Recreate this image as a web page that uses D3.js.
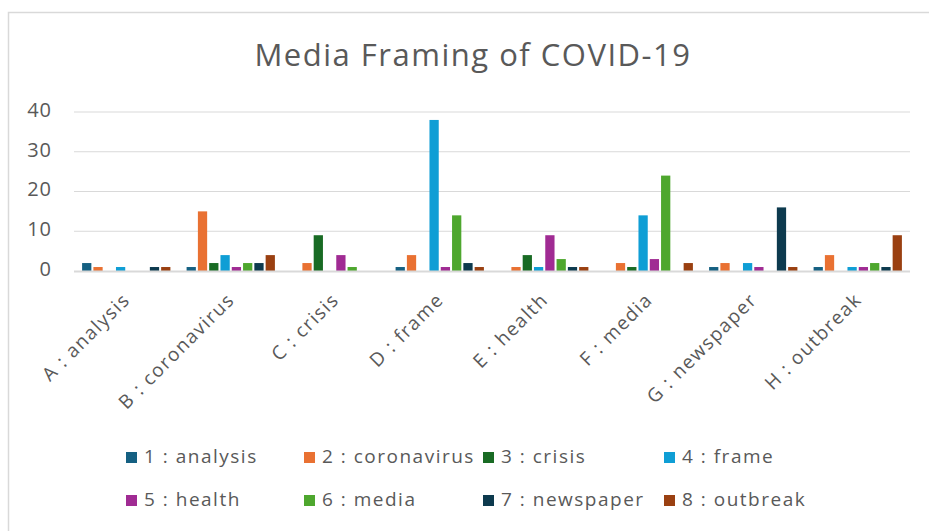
<!DOCTYPE html>
<html>
<head>
<meta charset="utf-8">
<script src="https://cdn.jsdelivr.net/npm/d3@7/dist/d3.min.js"></script>
<style>
  html, body { margin: 0; padding: 0; background: #ffffff; }
  svg { display: block; }
  text { font-family: "Open Sans", "Noto Sans", sans-serif; fill: #595959; }
</style>
</head>
<body>
<svg id="chart" width="929" height="531"></svg>
<script>
// ---- data ----
const categories = ["A : analysis", "B : coronavirus", "C : crisis", "D : frame", "E : health", "F : media", "G : newspaper", "H : outbreak"];
const seriesNames = ["1 : analysis", "2 : coronavirus", "3 : crisis", "4 : frame", "5 : health", "6 : media", "7 : newspaper", "8 : outbreak"];
const s1 = [2, 1, 0, 1, 0, 0, 1, 1];
const s2 = [1, 15, 2, 4, 1, 2, 2, 4];
const s3 = [0, 2, 9, 0, 4, 1, 0, 0];
const s4 = [1, 4, 0, 38, 1, 14, 2, 1];
const s5 = [0, 1, 4, 1, 9, 3, 1, 1];
const s6 = [0, 2, 1, 14, 3, 24, 0, 2];
const s7 = [1, 2, 0, 2, 1, 0, 16, 1];
const s8 = [1, 4, 0, 1, 1, 2, 1, 9];
const yTicks = [0, 10, 20, 30, 40];
const colors = ["#156082", "#E97132", "#196B24", "#0F9ED5", "#A02B93", "#4EA72E", "#0D3A4E", "#9A4011"];
const title = "Media Framing of COVID-19";

const seriesValues = [s1, s2, s3, s4, s5, s6, s7, s8];
const FONT = "'Open Sans', 'Noto Sans', sans-serif";

const svg = d3.select("#chart");

// outer border (only top/left visible in reference)
svg.append("rect")
  .attr("x", 8.5).attr("y", 12.5)
  .attr("width", 1200).attr("height", 1200)
  .attr("fill", "none").attr("stroke", "#d9d9d9").attr("stroke-width", 1.5);

// title
svg.append("text")
  .attr("x", 473).attr("y", 66)
  .attr("text-anchor", "middle")
  .style("font-size", "31px")
  .style("letter-spacing", "1.5px")
  .text(title);

// scales
const x0 = d3.scaleBand().domain(categories).range([74, 910])
  .paddingInner(0.155).paddingOuter(0.0775);
const x1 = d3.scaleBand().domain(seriesNames).range([0, x0.bandwidth()])
  .paddingInner(0.18).paddingOuter(0);
const y = d3.scaleLinear().domain([0, 40]).range([271, 112]);

// gridlines
svg.append("g").selectAll("line").data(yTicks.filter(d => d > 0)).join("line")
  .attr("x1", 74).attr("x2", 910)
  .attr("y1", d => y(d)).attr("y2", d => y(d))
  .attr("stroke", "#d9d9d9").attr("stroke-width", 1.2);

// y-axis labels
const yAxis = d3.axisLeft(y).tickValues(yTicks).tickSize(0).tickPadding(0);
const gy = svg.append("g").attr("transform", "translate(52,-2)").call(yAxis);
gy.select(".domain").remove();
gy.selectAll("text")
  .style("font-size", "20px")
  .style("letter-spacing", "1px")
  .style("font-family", FONT)
  .attr("fill", "#595959");

// bars
const data = categories.map((c, i) => ({ cat: c, vals: seriesNames.map((s, j) => ({ s, j, v: seriesValues[j][i] })) }));
svg.append("g").selectAll("g").data(data).join("g")
  .attr("transform", d => `translate(${x0(d.cat)},0)`)
  .selectAll("rect").data(d => d.vals).join("rect")
  .attr("x", d => x1(d.s))
  .attr("width", x1.bandwidth())
  .attr("y", d => y(d.v))
  .attr("height", d => y(0) - y(d.v))
  .attr("fill", d => colors[d.j]);

// x axis baseline
svg.append("line")
  .attr("x1", 74).attr("x2", 910)
  .attr("y1", y(0) + 0.5).attr("y2", y(0) + 0.5)
  .attr("stroke", "#d9d9d9").attr("stroke-width", 1.8);

// x axis labels (rotated -45)
const xAxis = d3.axisBottom(x0).tickSize(0).tickPadding(0);
const gx = svg.append("g").attr("transform", `translate(0,${y(0)})`).call(xAxis);
gx.select(".domain").remove();
gx.selectAll(".tick text")
  .style("font-size", "19px")
  .style("font-family", FONT)
  .style("letter-spacing", "1.5px")
  .attr("fill", "#595959")
  .attr("text-anchor", "end")
  .attr("dy", "0")
  .attr("y", 0)
  .attr("transform", "translate(5,30) rotate(-45)");

// legend
const legendCols = [126, 304, 483, 664];
const legendRows = [463, 506];
const lg = svg.append("g").selectAll("g").data(seriesNames).join("g")
  .attr("transform", (d, i) => `translate(${legendCols[i % 4]},${legendRows[Math.floor(i / 4)]})`);
lg.append("rect")
  .attr("x", 0).attr("y", -11).attr("width", 11).attr("height", 11)
  .attr("fill", (d, i) => colors[i]);
lg.append("text")
  .attr("x", 18).attr("y", 0)
  .style("font-size", "19px")
  .style("letter-spacing", "1.5px")
  .text(d => d);
</script>
</body>
</html>
